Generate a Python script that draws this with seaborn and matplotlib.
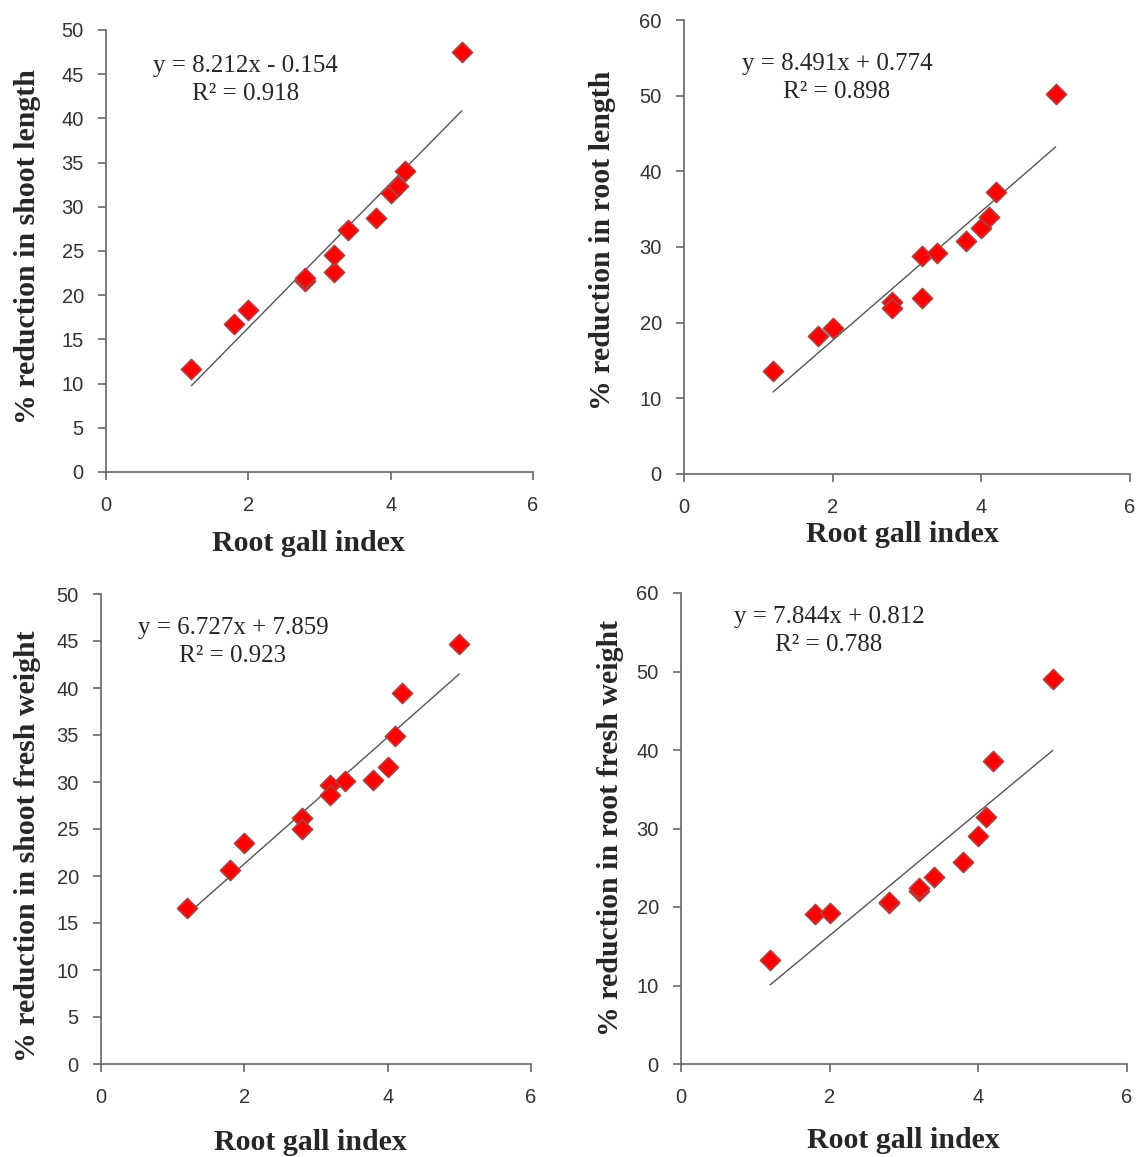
import numpy as np
import pandas as pd
import matplotlib
matplotlib.use("Agg")
import matplotlib.pyplot as plt
import seaborn as sns

# Índice de galhas (comum aos quatro gráficos)
root_gall_index = [1.2, 1.8, 2.0, 2.8, 2.8, 3.2, 3.2, 3.4, 3.8, 4.0, 4.1, 4.2, 5.0]

# % de redução em cada variável
shoot_length = [11.7, 16.7, 18.3, 21.6, 21.9, 22.6, 24.6, 27.4, 28.7, 31.6, 32.3, 34.0, 47.5]
root_length = [13.6, 18.2, 19.3, 22.7, 21.9, 23.2, 28.8, 29.2, 30.8, 32.5, 34.0, 37.3, 50.2]
shoot_fresh_weight = [16.6, 20.6, 23.5, 26.2, 25.0, 29.7, 28.6, 30.1, 30.2, 31.6, 34.9, 39.5, 44.7]
root_fresh_weight = [13.2, 19.1, 19.2, 20.5, 20.6, 22.0, 22.4, 23.8, 25.7, 29.0, 31.5, 38.6, 49.0]

y_labels = ["% reduction in shoot length", "% reduction in root length",
            "% reduction in shoot fresh weight", "% reduction in root fresh weight"]
equations = ["y = 8.212x - 0.154\nR² = 0.918", "y = 8.491x + 0.774\nR² = 0.898",
             "y = 6.727x + 7.859\nR² = 0.923", "y = 7.844x + 0.812\nR² = 0.788"]
y_max = [50, 60, 50, 60]
y_step = [5, 10, 5, 10]

sns.set_style("white")
plt.rcParams['font.family'] = ['Liberation Sans', 'DejaVu Sans']

W, H = 1140, 1157
fig = plt.figure(figsize=(W / 100, H / 100), dpi=100)

# Posições dos eixos em pixels (esquerda, topo, direita, base)
boxes = [(106, 30, 533, 472), (684, 20, 1130, 474),
         (101, 594, 531, 1064), (681, 593, 1127, 1064)]
eq_pos = [(0.326, 0.886), (0.343, 0.872), (0.307, 0.898), (0.332, 0.919)]
xlab_pos = [(0.473, -0.161), (0.489, -0.134), (0.488, -0.168), (0.498, -0.163)]
ylab_pos = [(-0.185, 0.511), (-0.182, 0.515), (-0.172, 0.464), (-0.159, 0.501)]

all_y = [shoot_length, root_length, shoot_fresh_weight, root_fresh_weight]

for i in range(4):
    l, t, r, b = boxes[i]
    ax = fig.add_axes([l / W, 1 - b / H, (r - l) / W, (b - t) / H])
    df = pd.DataFrame({"x": root_gall_index, "y": all_y[i]})
    sns.regplot(data=df, x="x", y="y", ax=ax, ci=None, marker="D",
                scatter_kws={"s": 105, "color": "#ff0000", "edgecolors": "#b04040",
                             "linewidths": 1.2, "alpha": 1, "zorder": 3},
                line_kws={"color": "#555555", "linewidth": 1.0, "zorder": 2})
    ax.set_xlim(0, 6)
    ax.set_ylim(0, y_max[i])
    ax.set_xticks([0, 2, 4, 6])
    ax.set_yticks(np.arange(0, y_max[i] + 1, y_step[i]))
    for side in ["top", "right"]:
        ax.spines[side].set_visible(False)
    for side in ["left", "bottom"]:
        ax.spines[side].set_color("#666666")
        ax.spines[side].set_linewidth(1.2)
    ax.tick_params(axis="both", direction="out", length=6, width=1.2,
                   color="#666666", labelsize=14.5, left=True, bottom=True,
                   labelcolor="#333333")
    ax.tick_params(axis="y", pad=10)
    ax.tick_params(axis="x", pad=11)
    ax.set_xlabel("Root gall index", family="Liberation Serif", fontweight="bold",
                  fontsize=21.5, va="center")
    ax.set_ylabel(y_labels[i], family="Liberation Serif", fontweight="bold",
                  fontsize=21.5, va="center")
    ax.xaxis.set_label_coords(*xlab_pos[i])
    ax.yaxis.set_label_coords(*ylab_pos[i])
    ax.text(eq_pos[i][0], eq_pos[i][1], equations[i], transform=ax.transAxes,
            ha="center", va="center", multialignment="center",
            family="Liberation Serif", fontsize=18, linespacing=1.35)

fig.savefig("out.png", dpi=100)
